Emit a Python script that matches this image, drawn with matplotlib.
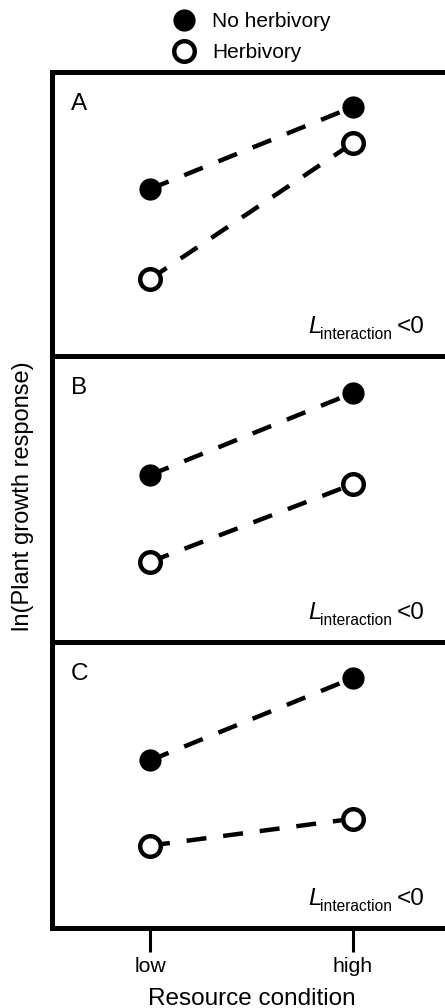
import matplotlib
matplotlib.use('Agg')
import matplotlib.pyplot as plt
from matplotlib.lines import Line2D

plt.rcParams['font.family'] = ['Liberation Sans', 'DejaVu Sans']

# x positions: resource condition
conditions = ['low', 'high']
x_pos = [0, 1]
panel_labels = ['A', 'B', 'C']

# ln(plant growth response), arbitrary units (0-10 per panel)
no_herb_A = [5.88, 8.77]
herb_A = [2.71, 7.50]
no_herb_B = [5.84, 8.71]
herb_B = [2.80, 5.52]
no_herb_C = [5.86, 8.74]
herb_C = [2.88, 3.82]

no_herb = [no_herb_A, no_herb_B, no_herb_C]
herb = [herb_A, herb_B, herb_C]

W, H = 445, 1008
fig = plt.figure(figsize=(W / 100, H / 100), dpi=100)

# panel edges in pixels (top, bottom)
edges = [(72, 356), (356, 642), (642, 928)]
left_px, right_px = 52, 452
ax_w = right_px - left_px

lw_frame = 3.6
line_kw = dict(color='black', lw=3.2, dashes=(4.5, 3.8), zorder=2)
filled_kw = dict(marker='o', ms=14.8, mfc='black', mec='black', mew=1.2, ls='none', zorder=3)
open_kw = dict(marker='o', ms=14.8, mfc='white', mec='black', mew=3.2, ls='none', zorder=3)

axes = []
for i, (top, bot) in enumerate(edges):
    ax = fig.add_axes([left_px / W, 1 - bot / H, ax_w / W, (bot - top) / H])
    ax.set_xlim(-0.483, 1.488)
    ax.set_ylim(0, 10)
    ax.plot(x_pos, no_herb[i], **line_kw)
    ax.plot(x_pos, herb[i], **line_kw)
    ax.plot(x_pos, no_herb[i], **filled_kw)
    ax.plot(x_pos, herb[i], **open_kw)
    for s in ax.spines.values():
        s.set_linewidth(lw_frame)
    ax.set_yticks([])
    ax.set_xticks([])
    ax.text((71 - left_px) / ax_w, 0.866, panel_labels[i], transform=ax.transAxes,
            fontsize=17.5, ha='left', va='baseline')
    # L_interaction <0
    yb = 0.081
    ax.text((308 - left_px) / ax_w, yb, 'L', transform=ax.transAxes, fontsize=17.5,
            style='italic', ha='left', va='baseline')
    ax.annotate('interaction', xy=((320 - left_px) / ax_w, yb), xycoords='axes fraction',
                xytext=(0, -4.3), textcoords='offset points', fontsize=11.2,
                ha='left', va='baseline')
    ax.text((397 - left_px) / ax_w, yb, '<0', transform=ax.transAxes, fontsize=17.5,
            ha='left', va='baseline')
    axes.append(ax)

axes[-1].set_xticks(x_pos)
axes[-1].set_xticklabels(conditions, fontsize=15.3)
axes[-1].tick_params(axis='x', direction='out', length=17, width=2.2, pad=4)

fig.text(252 / W, 1 - 1005 / H, 'Resource condition', fontsize=17.5,
         ha='center', va='baseline')
fig.text(23 / W, 1 - 496 / H, 'ln(Plant growth response)', fontsize=17,
         rotation=90, ha='center', va='center')

handles = [Line2D([], [], **filled_kw), Line2D([], [], **open_kw)]
fig.legend(handles, ['No herbivory', 'Herbivory'], loc='upper left',
           bbox_to_anchor=(171.5 / W, 1 - 12 / H), frameon=False, fontsize=15,
           handlelength=1.2, handletextpad=0.74, labelspacing=0.6,
           borderpad=0, borderaxespad=0)

fig.savefig('out.png', dpi=100)
